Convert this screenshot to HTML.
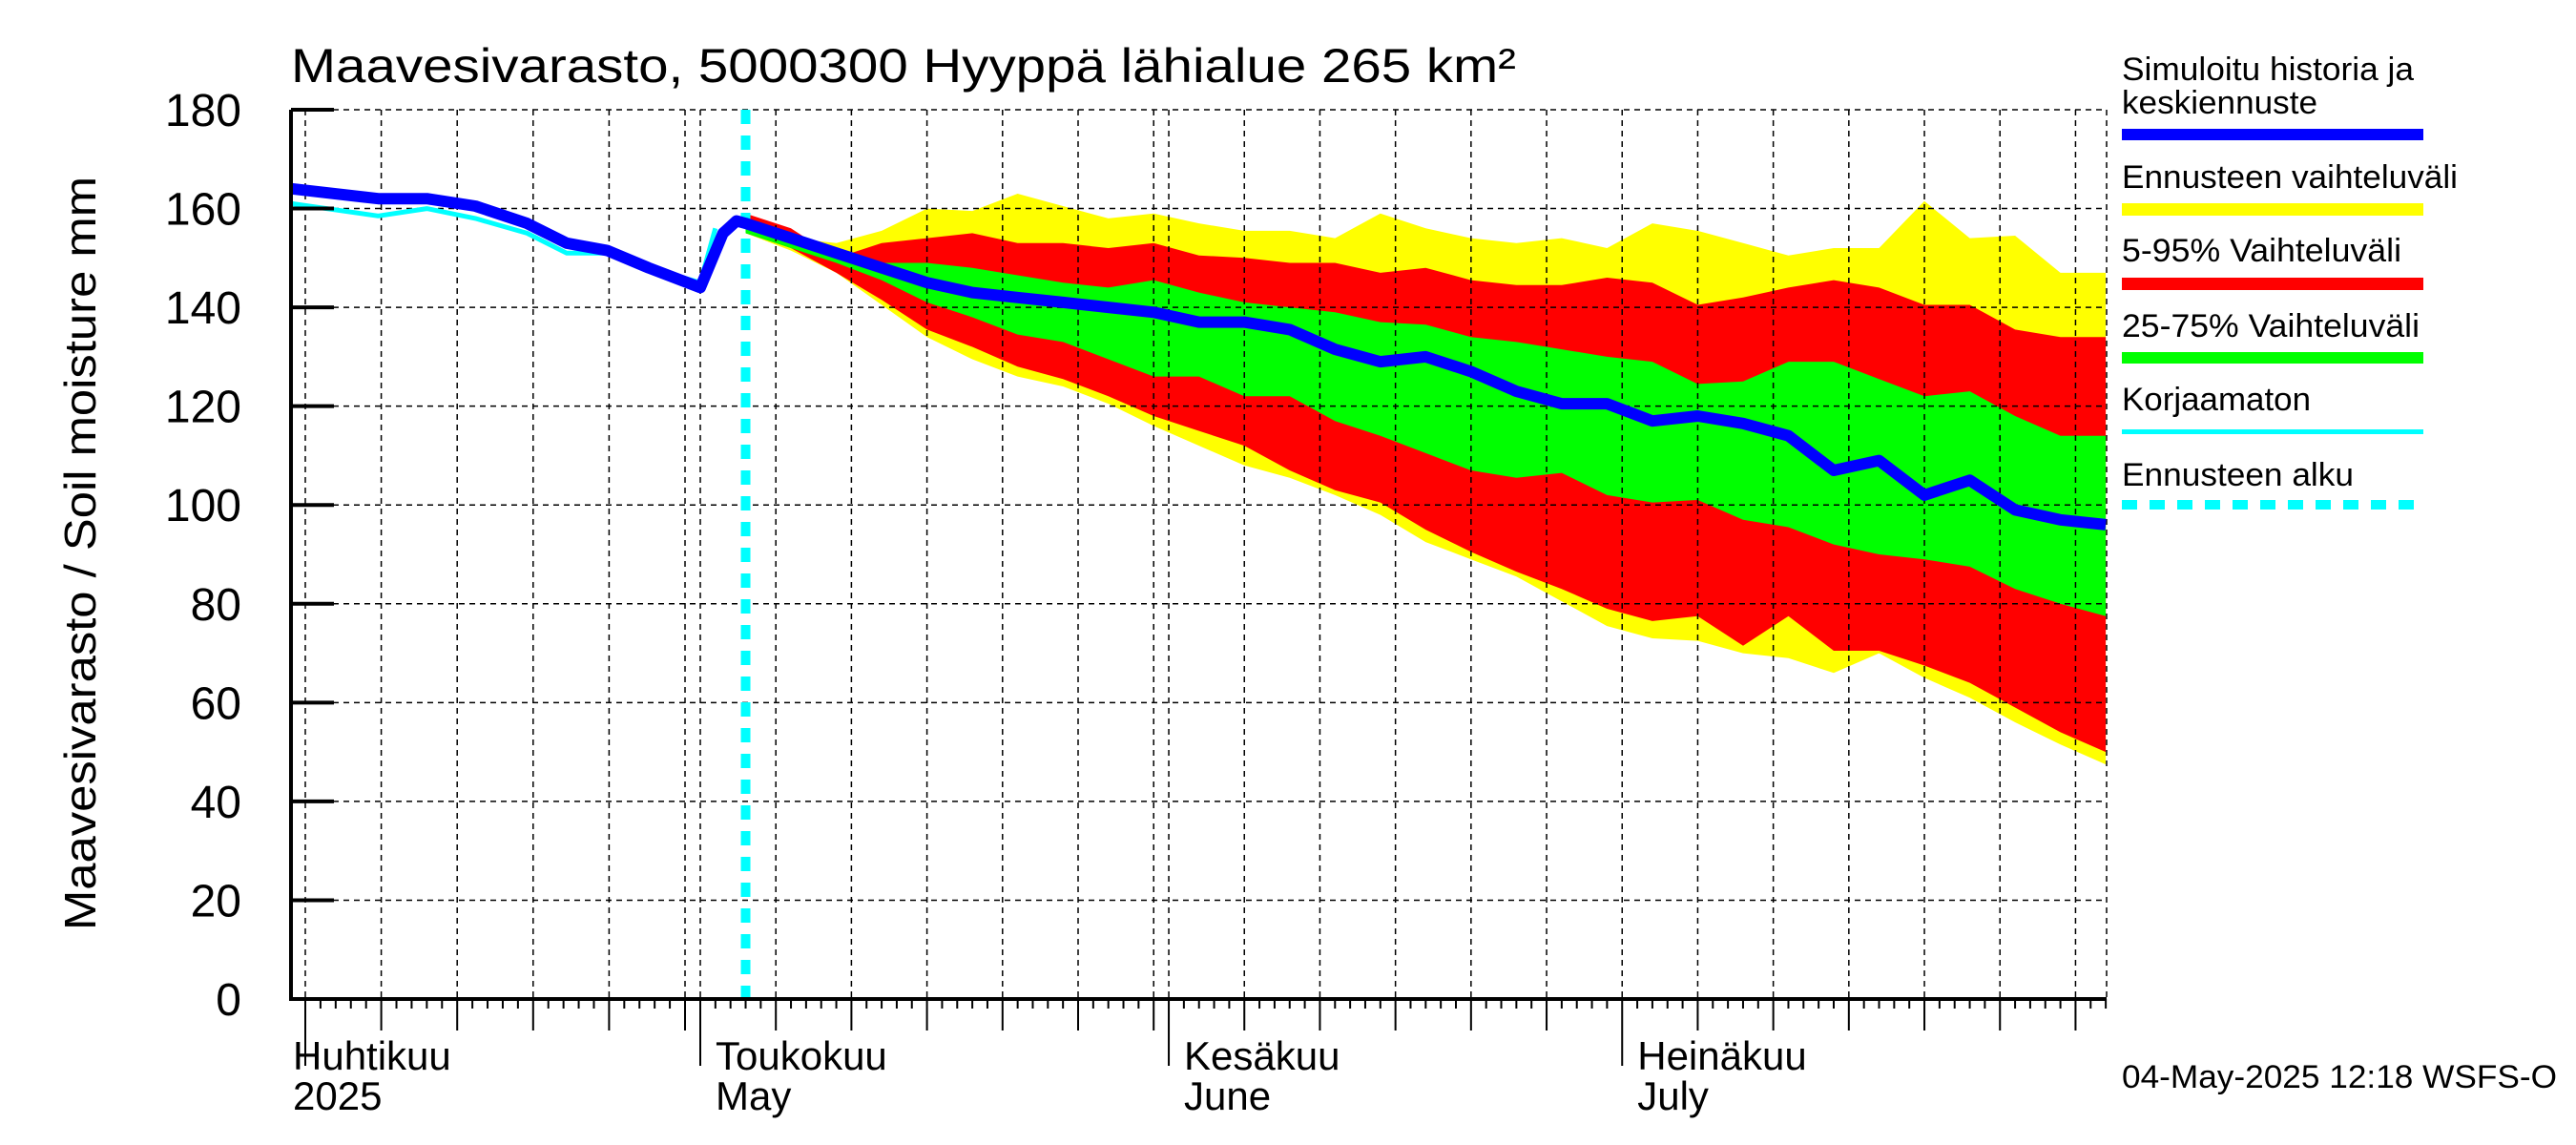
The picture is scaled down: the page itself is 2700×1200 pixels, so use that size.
<!DOCTYPE html>
<html><head><meta charset="utf-8"><style>
html,body{margin:0;padding:0;background:#fff}
svg{display:block}
text{font-family:"Liberation Sans",Arial,sans-serif;fill:#000}
</style></head><body>
<svg id="chart" width="2700" height="1200" viewBox="0 0 2700 1200" xmlns="http://www.w3.org/2000/svg">
<rect width="2700" height="1200" fill="#fff"/>
<g id="bands"></g><g id="grid"></g><g id="lines"></g><g id="axes"></g>
<text x="305" y="86" font-size="50" textLength="1284" lengthAdjust="spacingAndGlyphs">Maavesivarasto, 5000300 Hyyppä lähialue 265 km²</text>
<text transform="translate(100,580) rotate(-90)" text-anchor="middle" font-size="46" textLength="790" lengthAdjust="spacingAndGlyphs">Maavesivarasto / Soil moisture   mm</text>
<g font-size="34">
<text x="2224" y="84" textLength="306" lengthAdjust="spacingAndGlyphs">Simuloitu historia ja</text>
<text x="2224" y="119" textLength="205" lengthAdjust="spacingAndGlyphs">keskiennuste</text>
<rect x="2224" y="135" width="316" height="12" fill="#0000ff"/>
<text x="2224" y="197" textLength="352" lengthAdjust="spacingAndGlyphs">Ennusteen vaihteluväli</text>
<rect x="2224" y="213" width="316" height="13" fill="#ffff00"/>
<text x="2224" y="274" textLength="293" lengthAdjust="spacingAndGlyphs">5-95% Vaihteluväli</text>
<rect x="2224" y="291" width="316" height="13" fill="#ff0000"/>
<text x="2224" y="353" textLength="312" lengthAdjust="spacingAndGlyphs">25-75% Vaihteluväli</text>
<rect x="2224" y="369" width="316" height="12" fill="#00ff00"/>
<text x="2224" y="430" textLength="198" lengthAdjust="spacingAndGlyphs">Korjaamaton</text>
<rect x="2224" y="450" width="316" height="5" fill="#00ffff"/>
<text x="2224" y="509" textLength="243" lengthAdjust="spacingAndGlyphs">Ennusteen alku</text>
<line x1="2224" y1="529" x2="2540" y2="529" stroke="#00ffff" stroke-width="10" stroke-dasharray="16,13"/>
</g>
<text x="2224" y="1140" font-size="34" textLength="456" lengthAdjust="spacingAndGlyphs">04-May-2025 12:18 WSFS-O</text>
</svg>
<script>
// ---- data ----
const histDays = [-0.9, 4.8, 8.0, 11.2, 14.6, 17.2, 19.9, 22.6, 30, 31.5, 32.4, 33];
const histMedian = [164, 162, 162, 160.5, 157, 153, 151.5, 148, 144, 155, 157.5, 157];
const rawDays = [-0.9, 4.8, 8.0, 11.2, 14.6, 17.2, 19.9, 22.6, 30, 31.0];
const rawValues = [161, 158.5, 160, 158, 155, 151, 151, 148, 145, 156];
const fcStartDay = 33;
const fcStepDays = 3;
const fcMedian = [157,154,151,148,145,143,142,141,140,139,137,137,135.5,131.5,129,130,127,123,120.5,120.5,117,118,116.5,114,107,109,102,105,99,97,96];
const fcP75 = [157,153,150,149,149,148,146.5,145,144,145.5,143,141,140,139,137,136.5,134,133,131.5,130,129,124.5,125,129,129,125.5,122,123,118,114,114];
const fcP25 = [155,152,149,145.5,141,138,134.5,133,129.5,126,126,122,122,117,114,110.5,107,105.5,106.5,102,100.5,101,97,95.5,92,90,89,87.5,83,80,77.5];
const fcP95 = [159,156,150,153,154,155,153,153,152,153,150.5,150,149,149,147,148,145.5,144.5,144.5,146,145,140.5,142,144,145.5,144,140.5,140.5,135.5,134,134];
const fcP5 = [155,152,147,141.5,135.5,132,128,125.5,122,118,115,112,107,103,100.5,95,90.5,86.5,83,79,76.5,77.5,71.5,77.5,70.5,70.5,67.5,64,59,54,50];
const fcMax = [159,154,153,155.5,160,159.5,163,160.5,158,159,157,155.5,155.5,154,159,156,154,153,154,152,157,155.5,153,150.5,152,152,161.5,154,154.5,147,147];
const fcMin = [155,151.5,147,140.5,134,129.5,126,124,120.5,116,112,108,105.5,102,98,92.5,89,85.5,80.5,75.5,73,72.5,70,69,66,70,65,61,56,51.5,47.5];
const yTicks = [0,20,40,60,80,100,120,140,160,180];
const monthStarts = [0, 30, 61, 91, 122];
const monthNames = ["Huhtikuu","Toukokuu","Kesäkuu","Heinäkuu"];
const monthNamesEn = ["2025","May","June","July"];
const monthDaysLen = [30,31,30,31,31];

// ---- scales ----
const X0=305, X1=2208, Y0=1047, Y1=115, YMAX=180;
function x(d){ // piecewise date scale (day 0 = 1 April)
  if(d<=25) return 320+d*15.92;
  if(d<=30) return 718+(d-25)*3.2;
  return 734+(d-30)*15.84;
}
function y(v){ return Y0-(v/YMAX)*(Y0-Y1); }
const NS="http://www.w3.org/2000/svg";
function mk(tag,attrs,parent){const e=document.createElementNS(NS,tag);for(const k in attrs)e.setAttribute(k,attrs[k]);parent.appendChild(e);return e;}
const fcDays = fcMedian.map((_,i)=>fcStartDay+i*fcStepDays);
function band(upper,lower,color,name){
  const pts=[];
  upper.forEach((v,i)=>pts.push(x(fcDays[i]).toFixed(1)+","+y(v).toFixed(1)));
  for(let i=lower.length-1;i>=0;i--) pts.push(x(fcDays[i]).toFixed(1)+","+y(lower[i]).toFixed(1));
  const p=mk("polygon",{points:pts.join(" "),fill:color},document.getElementById("bands"));
  
  
}
band(fcMax,fcMin,"#ffff00","band-min-max");
band(fcP95,fcP5,"#ff0000","band-5-95");
band(fcP75,fcP25,"#00ff00","band-25-75");

// grid
const grid=document.getElementById("grid");
yTicks.forEach(v=>{ if(v===0) return;
  const l=mk("line",{x1:X0,x2:X1,y1:y(v),y2:y(v),stroke:"#000","stroke-width":1.5,"stroke-dasharray":"6,5"},grid);
  
  
});
const gridDays=[];
monthStarts.forEach((m,mi)=>{ if(mi<4){ gridDays.push(m); for(let k=5;k<monthDaysLen[mi];k+=5) gridDays.push(m+k);} });
gridDays.forEach(d=>{ const xx=x(d); if(xx<X0||xx>X1) return;
  const l=mk("line",{x1:xx,x2:xx,y1:Y1,y2:Y0,stroke:"#000","stroke-width":1.5,"stroke-dasharray":"6,5"},grid);
  
  
});
const rl=mk("line",{x1:X1,x2:X1,y1:Y1,y2:Y0,stroke:"#000","stroke-width":1.5,"stroke-dasharray":"6,5"},grid);



// lines
const lines=document.getElementById("lines");
const fl=mk("line",{x1:x(fcStartDay+0.0)+0,x2:x(fcStartDay),y1:Y1,y2:Y0,stroke:"#00ffff","stroke-width":10,"stroke-dasharray":"15,12"},lines);


const medPts=histDays.map((d,i)=>x(d).toFixed(1)+","+y(histMedian[i]).toFixed(1)).concat(fcMedian.map((v,i)=>x(fcDays[i]).toFixed(1)+","+y(v).toFixed(1)));
const raw=mk("polyline",{points:rawDays.map((d,i)=>x(d).toFixed(1)+","+y(rawValues[i]).toFixed(1)).join(" "),fill:"none",stroke:"#00ffff","stroke-width":5,"stroke-linejoin":"round"},lines);


const med=mk("polyline",{points:medPts.join(" "),fill:"none",stroke:"#0000ff","stroke-width":12,"stroke-linejoin":"round"},lines);



// axes
const axes=document.getElementById("axes");
const la=mk("line",{x1:X0,x2:X0,y1:Y1,y2:Y0+2,stroke:"#000","stroke-width":4},axes);


const ba=mk("line",{x1:X0-2,x2:X1,y1:Y0,y2:Y0,stroke:"#000","stroke-width":4},axes);


yTicks.forEach(v=>{
  const t=mk("line",{x1:X0,x2:X0+45,y1:y(v),y2:y(v),stroke:"#000","stroke-width":4},axes);
  
  
  const lb=mk("text",{x:253,y:y(v)+17,"text-anchor":"end","font-size":48},axes);
  lb.textContent=String(v);
  
  
});
for(let d=0; d<=123; d++){
  if(d>25&&d<30) continue;
  const xx=x(d); if(xx<X0||xx>X1) continue;
  let len=10;
  const mi=monthStarts.findIndex((m,i)=>d>=m&&d<monthStarts[i+1]);
  const dom=d-monthStarts[mi];
  if(dom===0) len=70; else if(dom%5===0) len=33;
  const t=mk("line",{x1:xx,x2:xx,y1:Y0,y2:Y0+len,stroke:"#000","stroke-width":2},axes);
  
  
}
monthNames.forEach((n,i)=>{
  const xx=x(monthStarts[i])+(i===0?-13:16);
  const a=mk("text",{x:xx,y:1121,"font-size":42},axes); a.textContent=n;
  
  
  const b=mk("text",{x:xx,y:1163,"font-size":42},axes); b.textContent=monthNamesEn[i];
  
  
});
</script>
</body></html>
